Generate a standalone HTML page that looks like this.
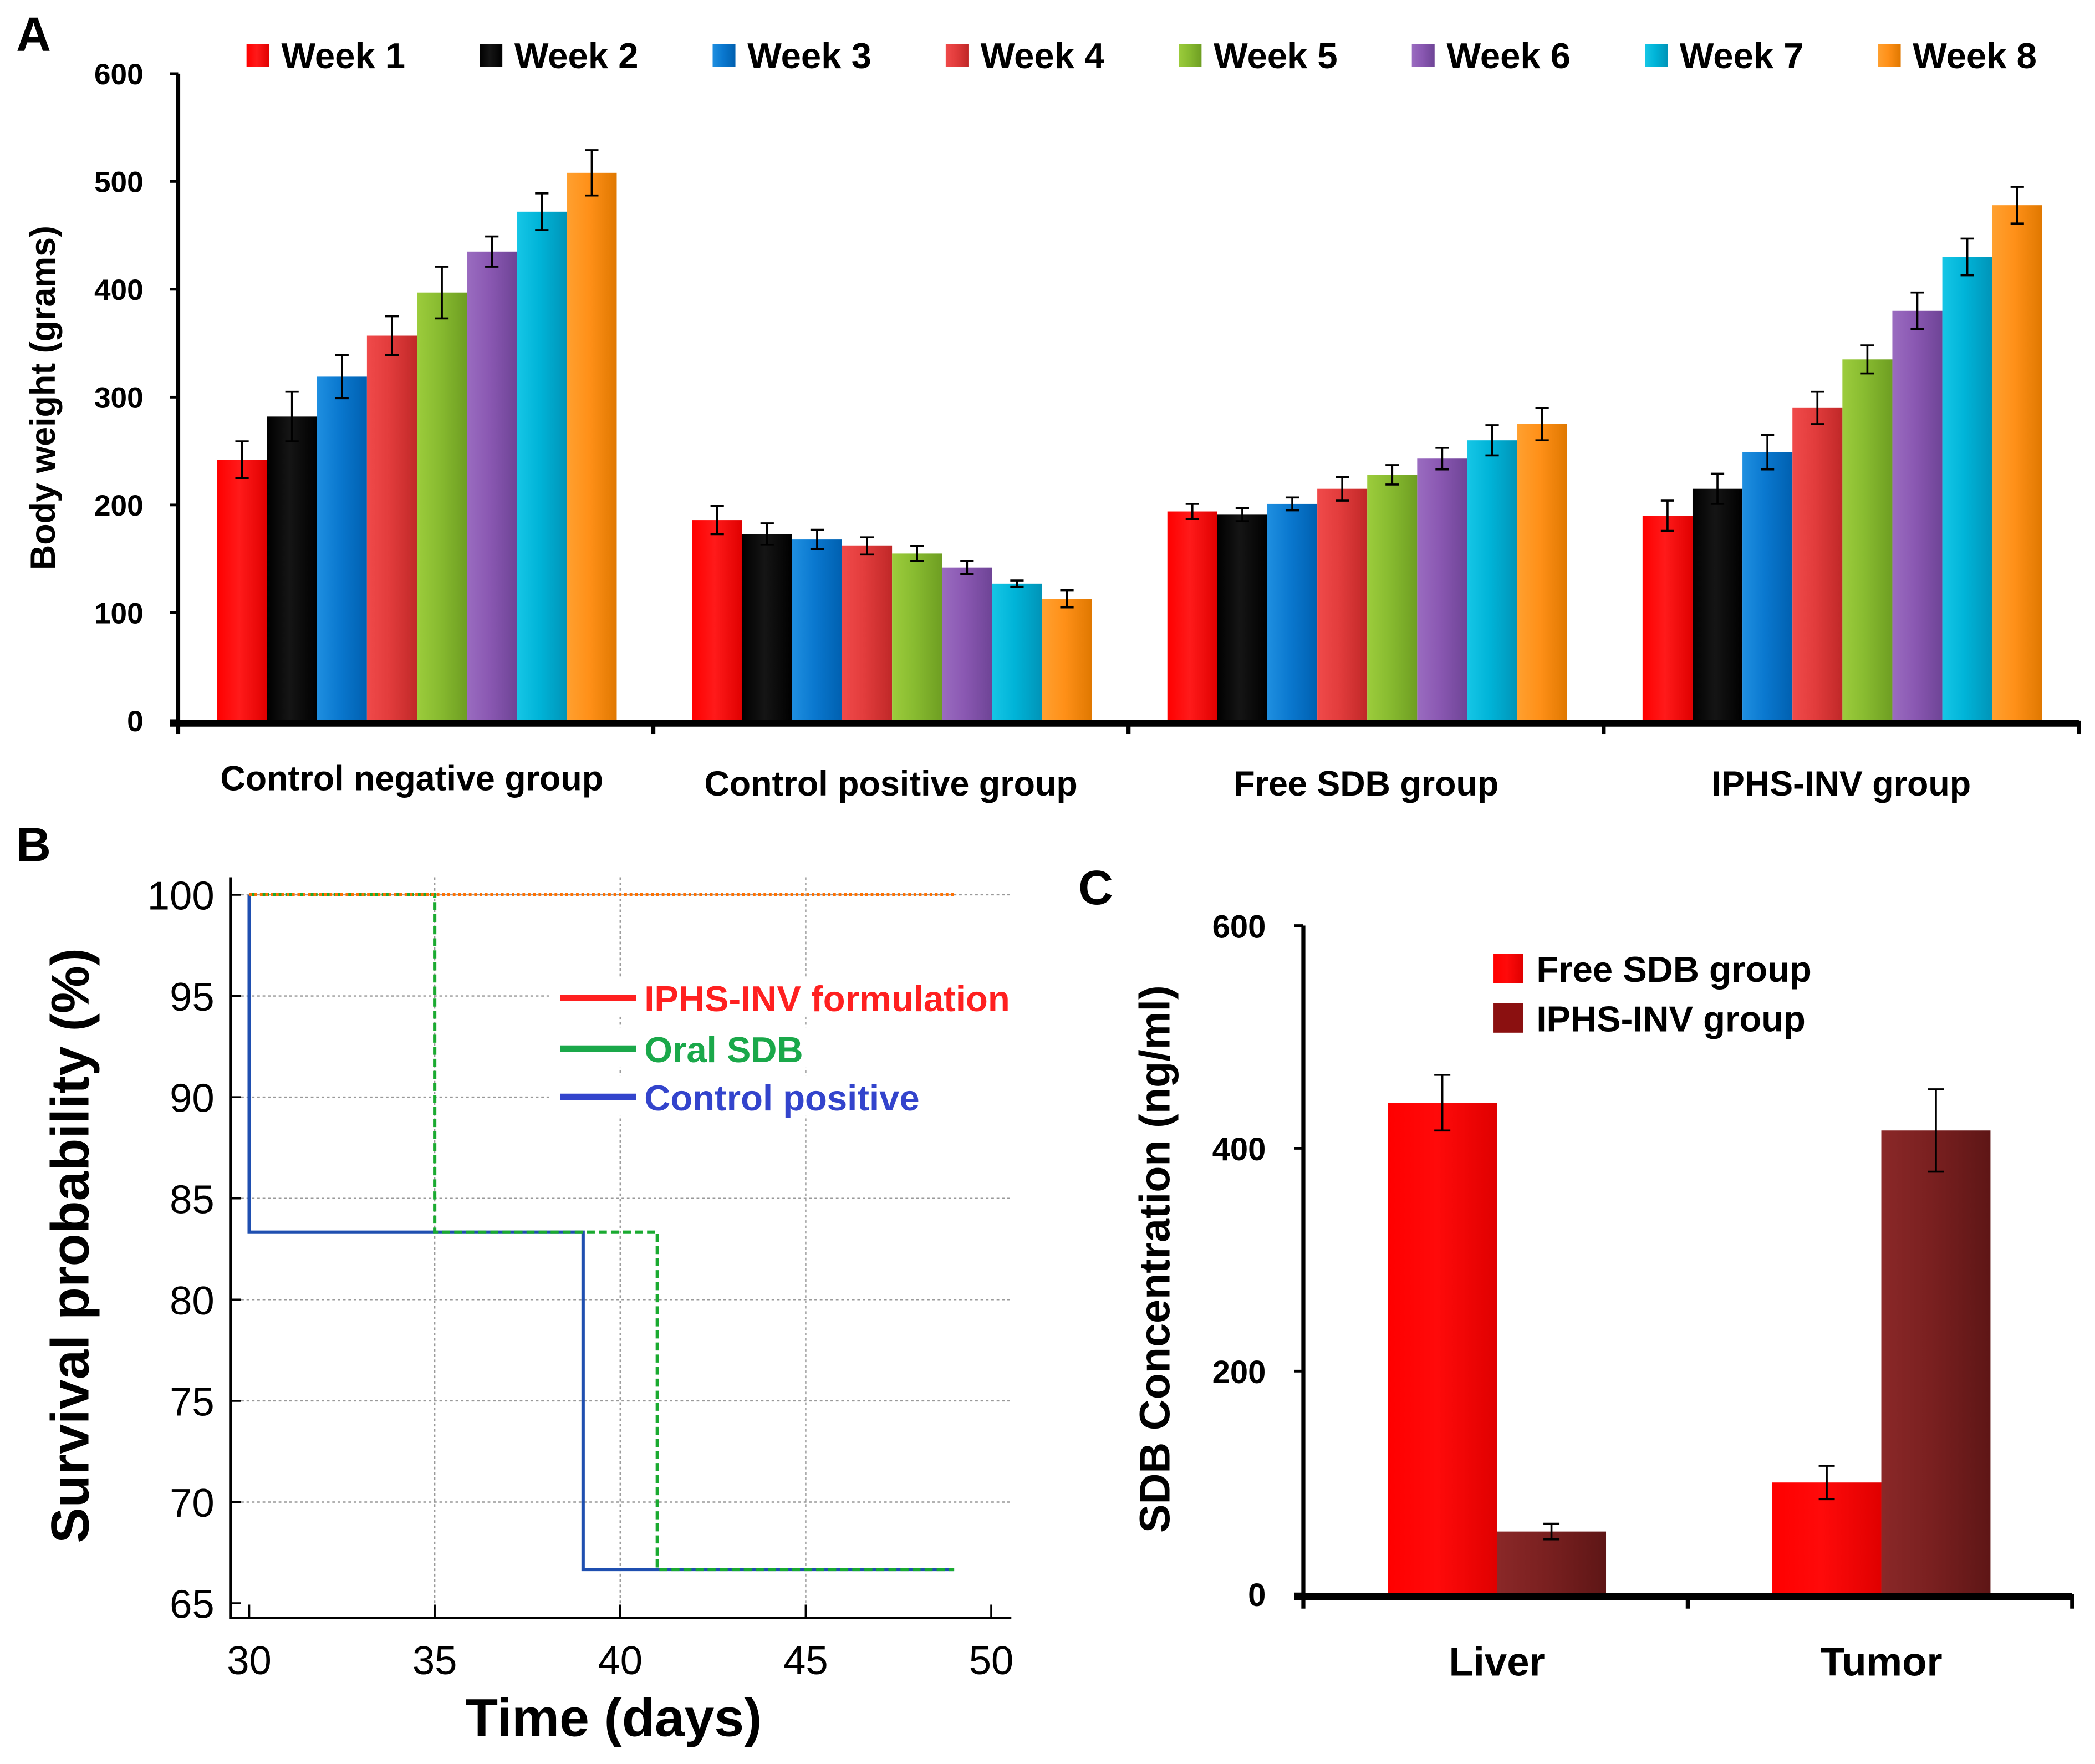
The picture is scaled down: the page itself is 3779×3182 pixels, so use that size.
<!DOCTYPE html>
<html><head><meta charset="utf-8"><style>
html,body{margin:0;padding:0;background:#fff;}
svg{display:block;font-family:"Liberation Sans",Arial,sans-serif;}
</style></head><body>
<svg id="fig" width="3779" height="3182" viewBox="0 0 1564 1317" xmlns="http://www.w3.org/2000/svg">
<defs id="defs"></defs>
<g id="pa"></g>
<g id="pb"></g>
<g id="pc"></g>
</svg>
<script>
// ---- Panel A data ----
const groupsA = ["Control negative group","Control positive group","Free SDB group","IPHS-INV group"];
const weeksA = ["Week 1","Week 2","Week 3","Week 4","Week 5","Week 6","Week 7","Week 8"];
const valsCN = [242,282,319,357,397,435,472,508];
const valsCP = [186,173,168,162,155,142,127,113];
const valsFree = [194,191,201,215,228,243,260,275];
const valsIPHS = [190,215,249,290,335,380,430,478];
const errCN = [17,23,20,18,24,14,17,21];
const errCP = [13,10,9,8,7,6,3,8];
const errFree = [7,6,6,11,9,10,14,15];
const errIPHS = [14,14,16,15,13,17,17,17];
const ticksA = [0,100,200,300,400,500,600];
// ---- Panel B data ----
const ticksBx = [30,35,40,45,50];
const ticksBy = [65,70,75,80,85,90,95,100];
const seriesBNames = ["IPHS-INV formulation","Oral SDB","Control positive"];
const iphsT = [30,49];
const iphsS = [100,100];
const oralT = [30,35,35,41,41,49];
const oralS = [100,100,83.33,83.33,66.67,66.67];
const ctrlT = [30,30,39,39,49];
const ctrlS = [100,83.33,83.33,66.67,66.67];
// ---- Panel C data ----
const catsC = ["Liver","Tumor"];
const seriesCNames = ["Free SDB group","IPHS-INV group"];
const freeC = [441,100];
const iphsC = [56,416];
const freeCErr = [25,15];
const iphsCErr = [7,37];
const ticksC = [0,200,400,600];

const NS="http://www.w3.org/2000/svg";
function mk(parent,tag,attrs,text){const e=document.createElementNS(NS,tag);for(const k in attrs)e.setAttribute(k,attrs[k]);if(text!==undefined)e.textContent=text;parent.appendChild(e);return e;}
const defs=document.getElementById('defs');
function grad(id,c1,c2,c3){const g=mk(defs,'linearGradient',{id:id,x1:0,y1:0,x2:1,y2:0});mk(g,'stop',{offset:'0','stop-color':c1});mk(g,'stop',{offset:'0.45','stop-color':c2});mk(g,'stop',{offset:'1','stop-color':c3});}
const colA=[["#ff0000","#ff1a1a","#e00000"],["#000","#151515","#000"],["#1f8fe0","#0a78cf","#0060b0"],["#f04a4a","#e23c3c","#c02828"],["#9ccc3c","#88bb30","#6e9e22"],["#9a6cc0","#8a58b2","#6e4496"],["#16c6e6","#00b4d8","#0094b8"],["#ffa030","#ff9018","#e07800"]];
colA.forEach((c,i)=>grad('gA'+i,c[0],c[1],c[2]));
grad('gC0','#ff0000','#ff0a0a','#e00000');
grad('gC1','#8a2828','#7a2020','#5e1616');

// ===== Panel A =====
const A=document.getElementById('pa');
const ax0=133, ay0=538, ayTop=55, axEnd=1552;
const ya=v=>ay0-(v/600)*(ay0-ayTop);
const gw=(axEnd-ax0)/4, bw=37.3, boff=29;
mk(A,'text',{x:12,y:38,'font-size':36,'font-weight':'bold'},'A');
ticksA.forEach(t=>{
  const l=mk(A,'line',{x1:ax0-6,x2:ax0,y1:ya(t),y2:ya(t),stroke:'#000','stroke-width':2});
  
  const tx=mk(A,'text',{x:107,y:ya(t)+8,'font-size':22,'font-weight':'bold','text-anchor':'end'},String(t));
  
});
const allV=[valsCN,valsCP,valsFree,valsIPHS], allE=[errCN,errCP,errFree,errIPHS];
allV.forEach((vals,g)=>{
  vals.forEach((v,i)=>{
    const x=ax0+g*gw+boff+i*bw;
    const r=mk(A,'rect',{x:x,y:ya(v),width:bw,height:ay0-ya(v),fill:'url(#gA'+i+')'});
    
    const cx=x+bw/2,e=allE[g][i];
    const eb=mk(A,'path',{d:`M${cx-5},${ya(v+e)}H${cx+5}M${cx},${ya(v+e)}V${ya(v-e)}M${cx-5},${ya(v-e)}H${cx+5}`,stroke:'#000','stroke-width':1.5,fill:'none'});
    
  });
  const lb=mk(A,'text',{x:ax0+g*gw+gw/2+(g==0?-3:0),y:g==0?590:594,'font-size':26,'font-weight':'bold','text-anchor':'middle'},groupsA[g]);
  
});
let yl=mk(A,'line',{x1:ax0,x2:ax0,y1:ayTop,y2:ay0+2,stroke:'#000','stroke-width':3});

let xl=mk(A,'line',{x1:ax0-6,x2:axEnd,y1:ay0+2,y2:ay0+2,stroke:'#000','stroke-width':5});

for(let g=0;g<=4;g++){const t=mk(A,'line',{x1:ax0+g*gw,x2:ax0+g*gw,y1:ay0,y2:ay0+10,stroke:'#000','stroke-width':3});}
let yt=mk(A,'text',{x:0,y:0,'font-size':26,'font-weight':'bold','text-anchor':'middle',transform:'translate(41,297) rotate(-90)'},'Body weight (grams)');

weeksA.forEach((w,i)=>{
  const lx=184+i*174;
  const g=mk(A,'g',{});
  
  mk(g,'rect',{x:lx,y:33,width:17,height:17,fill:'url(#gA'+i+')'});
  mk(g,'text',{x:lx+26,y:51,'font-size':27,'font-weight':'bold'},w);
});

// ===== Panel B =====
const B=document.getElementById('pb');
const bxL=172,bxR=755,byT=655,byB=1208;
const xb=t=>186+(t-30)*(740-186)/20;
const yb=s=>668+(100-s)*(1197-668)/35;
mk(B,'text',{x:12,y:643,'font-size':36,'font-weight':'bold'},'B');
ticksBy.forEach(s=>{
  if(s>65){const gl=mk(B,'line',{x1:bxL,x2:bxR,y1:yb(s),y2:yb(s),stroke:'#999','stroke-width':1,'stroke-dasharray':'2,2'});}
  const t=mk(B,'line',{x1:bxL,x2:bxL+8,y1:yb(s),y2:yb(s),stroke:'#000','stroke-width':1.5});
  const tx=mk(B,'text',{x:160,y:yb(s)+11,'font-size':30,'text-anchor':'end'},String(s));
  
});
ticksBx.forEach(t=>{
  if(t>30&&t<50){const gl=mk(B,'line',{x1:xb(t),x2:xb(t),y1:byT,y2:byB,stroke:'#999','stroke-width':1,'stroke-dasharray':'2,2'});}
  const tk=mk(B,'line',{x1:xb(t),x2:xb(t),y1:byB,y2:byB-10,stroke:'#000','stroke-width':1.5});
  const tx=mk(B,'text',{x:xb(t),y:1250,'font-size':30,'text-anchor':'middle'},String(t));
  
});
let bax=mk(B,'path',{d:`M${bxL},${byT}V${byB}H${bxR}`,stroke:'#000','stroke-width':2,fill:'none'});

function stepPath(T,S){return T.map((t,i)=>(i?'L':'M')+xb(t)+','+yb(S[i])).join('');}
let pc1=mk(B,'path',{d:stepPath(ctrlT,ctrlS),stroke:'#1f4fb0','stroke-width':2.5,fill:'none'});

let po=mk(B,'path',{d:stepPath(oralT,oralS),stroke:'#1aaa30','stroke-width':2.5,fill:'none','stroke-dasharray':'6,3'});

let pi=mk(B,'path',{d:stepPath(iphsT,iphsS),stroke:'#ff7000','stroke-width':2.5,fill:'none','stroke-dasharray':'2,2'});

const legB=[['#ff2020',745],['#1aa84a',783],['#3344cc',819]];
seriesBNames.forEach((n,i)=>{
  const g=mk(B,'g',{});
  
  mk(g,'rect',{x:410,y:legB[i][1]-16,width:375,height:30,fill:'#fff'});
  mk(g,'line',{x1:418,x2:475,y1:legB[i][1],y2:legB[i][1],stroke:legB[i][0],'stroke-width':5});
  mk(g,'text',{x:481,y:legB[i][1]+10,'font-size':27,'font-weight':'bold',fill:legB[i][0]},n);
});
let bxt=mk(B,'text',{x:458,y:1296,'font-size':40,'font-weight':'bold','text-anchor':'middle'},'Time (days)');

let byt=mk(B,'text',{x:0,y:0,'font-size':40,'font-weight':'bold','text-anchor':'middle',transform:'translate(66,930) rotate(-90)'},'Survival probability (%)');


// ===== Panel C =====
const C=document.getElementById('pc');
const cx0=973,cy0=1190,cyT=691,cxEnd=1547;
const yc=v=>cy0-(v/600)*(cy0-cyT);
const cgw=(cxEnd-cx0)/2, cbw=81.5, cboff=63;
mk(C,'text',{x:805,y:675,'font-size':36,'font-weight':'bold'},'C');
ticksC.forEach(t=>{
  const l=mk(C,'line',{x1:cx0-7,x2:cx0,y1:yc(t),y2:yc(t),stroke:'#000','stroke-width':2});
  const tx=mk(C,'text',{x:945,y:yc(t)+9,'font-size':24,'font-weight':'bold','text-anchor':'end'},String(t));
  
});
[[freeC,freeCErr],[iphsC,iphsCErr]].forEach((s,si)=>{
  s[0].forEach((v,i)=>{
    const x=cx0+i*cgw+cboff+si*cbw;
    const r=mk(C,'rect',{x:x,y:yc(v),width:cbw,height:cy0-yc(v),fill:'url(#gC'+si+')'});
    
    const mx=x+cbw/2,e=s[1][i];
    const eb=mk(C,'path',{d:`M${mx-6},${yc(v+e)}H${mx+6}M${mx},${yc(v+e)}V${yc(v-e)}M${mx-6},${yc(v-e)}H${mx+6}`,stroke:'#000','stroke-width':1.5,fill:'none'});
    
  });
});
catsC.forEach((c,i)=>{
  const tx=mk(C,'text',{x:cx0+i*cgw+cboff+cbw,y:1251,'font-size':30,'font-weight':'bold','text-anchor':'middle'},c);
  
});
let cyl=mk(C,'line',{x1:cx0,x2:cx0,y1:cyT,y2:cy0+2,stroke:'#000','stroke-width':3});

let cxl=mk(C,'line',{x1:cx0-7,x2:cxEnd,y1:cy0+2,y2:cy0+2,stroke:'#000','stroke-width':5});

for(let g=0;g<=2;g++){const t=mk(C,'line',{x1:cx0+g*cgw,x2:cx0+g*cgw,y1:cy0,y2:cy0+11,stroke:'#000','stroke-width':3});}
seriesCNames.forEach((n,i)=>{
  const g=mk(C,'g',{});
  
  mk(g,'rect',{x:1115,y:712+i*37,width:22,height:22,fill:i?'#8b1010':'url(#gC0)'});
  mk(g,'text',{x:1147,y:733+i*37,'font-size':27,'font-weight':'bold'},n);
});
let cyt=mk(C,'text',{x:0,y:0,'font-size':32,'font-weight':'bold','text-anchor':'middle',transform:'translate(873,940) rotate(-90)'},'SDB Concentration (ng/ml)');

</script>
</body></html>
